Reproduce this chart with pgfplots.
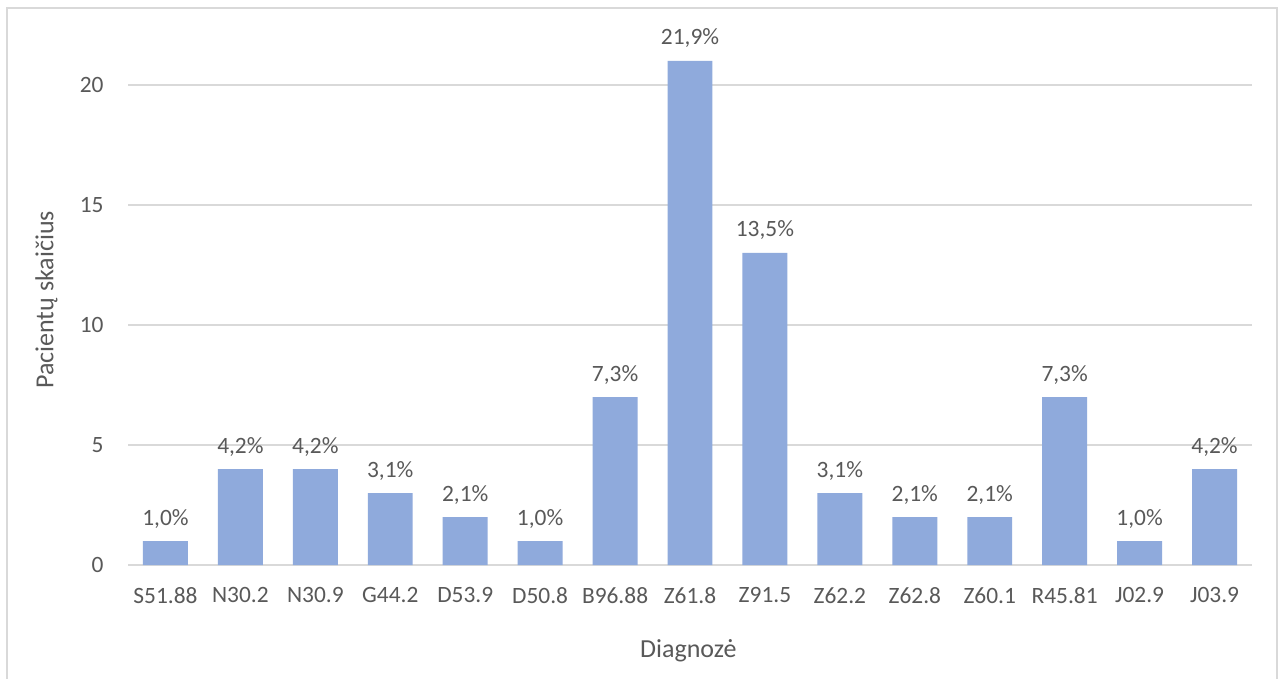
\documentclass[border=0pt]{standalone}
\usepackage{pgfplots}
\usepackage{pgfplotstable}
\pgfplotsset{compat=1.18}
\usepackage{fontspec}
\setmainfont{Carlito}
\definecolor{barblue}{HTML}{8FAADC}
\definecolor{txt}{HTML}{595959}
\definecolor{gridc}{HTML}{D9D9D9}
\pgfplotstableread{
x y lab
0 1 1,0\%
1 4 4,2\%
2 4 4,2\%
3 3 3,1\%
4 2 2,1\%
5 1 1,0\%
6 7 7,3\%
7 21 21,9\%
8 13 13,5\%
9 3 3,1\%
10 2 2,1\%
11 2 2,1\%
12 7 7,3\%
13 1 1,0\%
14 4 4,2\%
}\datatable
\begin{document}
\begin{tikzpicture}
\clip (0,0) rectangle (642.5pt,-339.5pt);
\fill[white] (0,0) rectangle (642.5pt,-339.5pt);
\draw[gridc, line width=0.8pt] (3.5pt,-4pt) rectangle (638.5pt,-360pt);
\begin{axis}[
  at={(64pt,-282.5pt)}, anchor=south west,
  scale only axis, width=562pt, height=264pt,
  font=\fontsize{11.7pt}{14pt}\selectfont,
  /pgf/number format/assume math mode=true,
  xmin=-0.5, xmax=14.5, ymin=0, ymax=22,
  axis x line=bottom, axis y line=left,
  x axis line style={gridc, line width=0.8pt, -},
  y axis line style={draw=none},
  xtick=data,
  xticklabels={S51.88,N30.2,N30.9,G44.2,D53.9,D50.8,B96.88,Z61.8,Z91.5,Z62.2,Z62.8,Z60.1,R45.81,J02.9,J03.9},
  ytick={0,5,10,15,20},
  ymajorgrids, grid style={gridc, line width=0.8pt},
  major tick length=0pt,
  tick label style={txt},
  xticklabel style={inner sep=0pt, yshift=-11pt},
  yticklabel style={inner sep=0pt, xshift=-12pt},
  ylabel={Pacientų skaičius},
  ylabel style={txt, font=\fontsize{13pt}{15pt}\selectfont, at={(rel axis cs:-0.0725,0.502)}, anchor=center},
  xlabel={Diagnozė},
  xlabel style={txt, font=\fontsize{13pt}{15pt}\selectfont, at={(rel axis cs:0.4985,-0.163)}, anchor=center},
  ybar, bar width=0.6,
  point meta=explicit symbolic,
  nodes near coords,
  every node near coord/.append style={txt, anchor=base, inner sep=0pt, yshift=8pt},
]
\addplot[fill=barblue, draw=none] table[x=x, y=y, meta=lab] {\datatable};
\end{axis}
\end{tikzpicture}
\end{document}
